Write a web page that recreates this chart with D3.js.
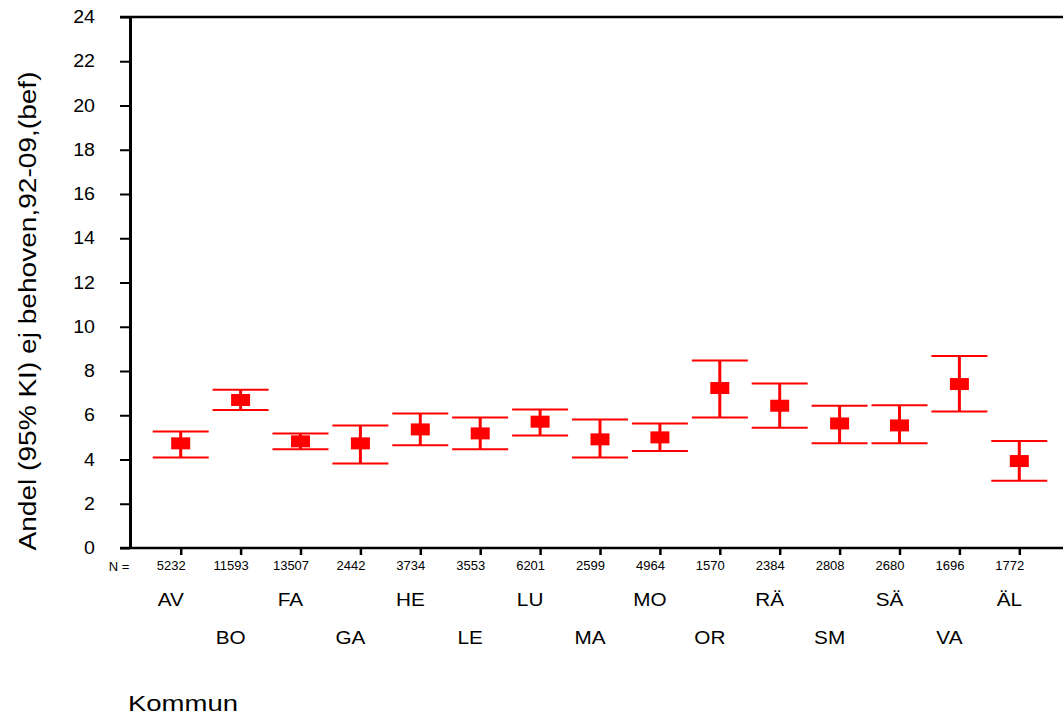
<!DOCTYPE html>
<html>
<head>
<meta charset="utf-8">
<script src="https://cdn.jsdelivr.net/npm/d3@7"></script>
<style>
  body { margin: 0; background: #fff; }
  text { font-family: "Liberation Sans", Arial, sans-serif; fill: #000; }
</style>
</head>
<body>
<svg id="chart" width="1063" height="716"></svg>
<script>
// kommun codes, sample sizes, mean and 95% CI (percent)
const kommuner = ["AV", "BO", "FA", "GA", "HE", "LE", "LU", "MA", "MO", "OR", "RÄ", "SM", "SÄ", "VA", "ÄL"];
const nValues = [5232, 11593, 13507, 2442, 3734, 3553, 6201, 2599, 4964, 1570, 2384, 2808, 2680, 1696, 1772];
const means = [4.73, 6.69, 4.82, 4.73, 5.36, 5.18, 5.71, 4.91, 5.0, 7.23, 6.43, 5.63, 5.54, 7.41, 3.93];
const lower = [4.09, 6.24, 4.46, 3.82, 4.64, 4.46, 5.09, 4.09, 4.38, 5.9, 5.44, 4.73, 4.73, 6.17, 3.04];
const upper = [5.27, 7.15, 5.18, 5.54, 6.08, 5.9, 6.26, 5.81, 5.63, 8.48, 7.43, 6.43, 6.45, 8.68, 4.84];
const yTicks = [0, 2, 4, 6, 8, 10, 12, 14, 16, 18, 20, 22, 24];

const svg = d3.select("#chart");
const plotLeft = 130, plotRight = 1063, plotTop = 17, plotBottom = 548;
const stretch = 1.12; // text in the original looks a bit wide

const x = d3.scalePoint().domain(kommuner).range([180.7, 1019.3]);
const y = d3.scaleLinear().domain([0, 24]).range([plotBottom, plotTop]);

// y axis
const yAxis = d3.axisLeft(y).tickValues(yTicks).tickSizeInner(10).tickSizeOuter(0).tickPadding(25);
const gy = svg.append("g").attr("transform", `translate(${plotLeft},0)`).call(yAxis);
gy.select(".domain").attr("stroke-width", 3);
gy.selectAll(".tick line").attr("stroke-width", 2);
gy.selectAll(".tick text")
    .attr("font-size", 17.5)
    .attr("transform", `scale(${stretch},1)`)
    .attr("x", -35 / stretch);

// x axis, N under each tick
const xAxis = d3.axisBottom(x).tickSizeInner(7).tickSizeOuter(0).tickPadding(6)
    .tickFormat((d, i) => nValues[i]);
const gx = svg.append("g").attr("transform", `translate(0,${plotBottom})`).call(xAxis);
gx.select(".domain").remove();
gx.selectAll(".tick line").attr("stroke-width", 2.5);
gx.selectAll(".tick text").attr("font-size", 13).attr("dx", -10);

// frame lines (bottom and top)
svg.append("line").attr("x1", plotLeft - 10).attr("x2", plotRight).attr("y1", y(0)).attr("y2", y(0))
    .attr("stroke", "#000").attr("stroke-width", 2.5);
svg.append("line").attr("x1", plotLeft - 10).attr("x2", plotRight).attr("y1", y(24)).attr("y2", y(24))
    .attr("stroke", "#000").attr("stroke-width", 2.5);

svg.append("text").attr("x", 119).attr("y", 566).attr("dy", "0.35em")
    .attr("font-size", 13).attr("text-anchor", "middle").text("N =");

// category labels in two staggered rows
svg.append("g").selectAll("text").data(kommuner).join("text")
    .attr("transform", (d, i) => `translate(${x(d) - 10},${i % 2 === 0 ? 600 : 638}) scale(${stretch},1)`)
    .attr("dy", "0.35em")
    .attr("text-anchor", "middle")
    .attr("font-size", 18.5)
    .text((d) => d);

// error bars
const bars = svg.append("g").selectAll("g").data(kommuner).join("g");
const capHalf = 28;
bars.append("line")
    .attr("x1", (d) => x(d)).attr("x2", (d) => x(d))
    .attr("y1", (d, i) => y(upper[i])).attr("y2", (d, i) => y(lower[i]))
    .attr("stroke", "#ff0000").attr("stroke-width", 3);
bars.append("line")
    .attr("x1", (d) => x(d) - capHalf).attr("x2", (d) => x(d) + capHalf)
    .attr("y1", (d, i) => y(upper[i])).attr("y2", (d, i) => y(upper[i]))
    .attr("stroke", "#ff0000").attr("stroke-width", 2);
bars.append("line")
    .attr("x1", (d) => x(d) - capHalf).attr("x2", (d) => x(d) + capHalf)
    .attr("y1", (d, i) => y(lower[i])).attr("y2", (d, i) => y(lower[i]))
    .attr("stroke", "#ff0000").attr("stroke-width", 2);
bars.append("rect")
    .attr("x", (d) => x(d) - 9.5).attr("y", (d, i) => y(means[i]) - 6)
    .attr("width", 19).attr("height", 12)
    .attr("fill", "#ff0000");

// axis titles
svg.append("text")
    .attr("transform", `translate(28,311) rotate(-90) scale(1.17,1)`)
    .attr("dy", "0.35em")
    .attr("text-anchor", "middle")
    .attr("font-size", 24)
    .text("Andel (95% KI) ej behoven,92-09,(bef)");

svg.append("text")
    .attr("transform", `translate(128,703) scale(1.25,1)`)
    .attr("dy", "0.35em")
    .attr("font-size", 22)
    .text("Kommun");
</script>
</body>
</html>
